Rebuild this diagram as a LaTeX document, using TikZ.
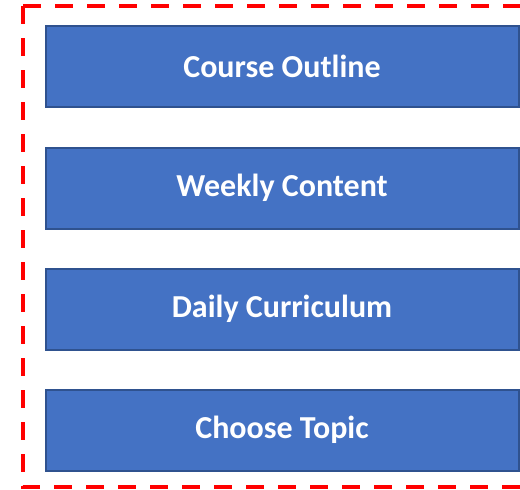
\documentclass[tikz,border=0pt]{standalone}
\usepackage{fontspec}
\setmainfont{Carlito}
\definecolor{boxfill}{HTML}{4472C4}
\definecolor{boxline}{HTML}{2F528F}
\tikzset{
  topicbox/.style={draw=boxline, line width=2pt, fill=boxfill, minimum width=473pt, minimum height=81pt, inner sep=0pt, text=white, font=\fontsize{32}{36}\selectfont\bfseries},
  frame/.style={draw=red, line width=4pt, dash pattern=on 18pt off 14pt}
}
\begin{document}
\begin{tikzpicture}[x=1pt,y=-1pt]
\useasboundingbox (0,0) rectangle (520,490);
\draw[frame] (23,6) -- (540,6) (23,6) -- (23,487) -- (540,487);
\node[topicbox] (a) at (282,66.5) {Course Outline};
\node[topicbox] (b) at (282,188) {Weekly Content};
\node[topicbox] (c) at (282,309) {Daily Curriculum};
\node[topicbox] (d) at (282,430) {Choose Topic};
\end{tikzpicture}
\end{document}
